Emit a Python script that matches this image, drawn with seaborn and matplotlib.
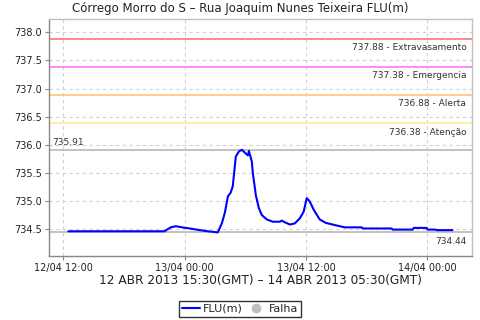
import matplotlib
matplotlib.use("Agg")
import matplotlib.pyplot as plt
import matplotlib.dates as mdates
from matplotlib.lines import Line2D
import seaborn as sns
import pandas as pd

sns.set_theme(style="white")
plt.rcParams['font.family'] = ['DejaVu Sans']

times = [
    "2013-04-12 12:30", "2013-04-12 22:00", "2013-04-12 22:38", "2013-04-12 23:08",
    "2013-04-12 23:44", "2013-04-13 00:31", "2013-04-13 01:31", "2013-04-13 02:18",
    "2013-04-13 02:48", "2013-04-13 03:17", "2013-04-13 03:41", "2013-04-13 03:59",
    "2013-04-13 04:17", "2013-04-13 04:34", "2013-04-13 04:46", "2013-04-13 05:04",
    "2013-04-13 05:22", "2013-04-13 05:40", "2013-04-13 05:58", "2013-04-13 06:16",
    "2013-04-13 06:22", "2013-04-13 06:39", "2013-04-13 06:45", "2013-04-13 07:03",
    "2013-04-13 07:21", "2013-04-13 07:38", "2013-04-13 08:08", "2013-04-13 08:44",
    "2013-04-13 09:25", "2013-04-13 09:37", "2013-04-13 09:55", "2013-04-13 10:25",
    "2013-04-13 10:54", "2013-04-13 11:24", "2013-04-13 11:47", "2013-04-13 12:05",
    "2013-04-13 12:23", "2013-04-13 12:47", "2013-04-13 13:22", "2013-04-13 13:58",
    "2013-04-13 14:52", "2013-04-13 15:51", "2013-04-13 17:32", "2013-04-13 17:37",
    "2013-04-13 20:29", "2013-04-13 20:35", "2013-04-13 22:34", "2013-04-13 22:40",
    "2013-04-13 23:56", "2013-04-14 00:02", "2013-04-14 00:50", "2013-04-14 00:56",
    "2013-04-14 02:30",
]
flu = [
    734.46, 734.46, 734.53, 734.55,
    734.53, 734.51, 734.48, 734.46,
    734.45, 734.44, 734.60, 734.79,
    735.08, 735.15, 735.26, 735.79,
    735.88, 735.91, 735.86, 735.81,
    735.89, 735.70, 735.50, 735.10,
    734.87, 734.75, 734.67, 734.63,
    734.63, 734.65, 734.62, 734.58,
    734.60, 734.69, 734.81, 735.05,
    734.99, 734.84, 734.67, 734.61,
    734.57, 734.53, 734.53, 734.51,
    734.51, 734.49, 734.49, 734.52,
    734.52, 734.49, 734.49, 734.48,
    734.48,
]

thresholds = [737.88, 737.38, 736.88, 736.38]
threshold_names = ["Extravasamento", "Emergencia", "Alerta", "Atenção"]
threshold_colors = ["#ff8080", "#ff80ff", "#ffc880", "#ffee99"]
max_val = 735.91
min_val = 734.44

df = pd.DataFrame({"time": pd.to_datetime(times), "FLU(m)": flu})

fig = plt.figure(figsize=(4.8, 3.2), dpi=100)
ax = fig.add_axes([0.102, 0.2, 0.881, 0.741])

sns.lineplot(data=df, x="time", y="FLU(m)", ax=ax, color="#0000ff", linewidth=1.5)

for v, n, c in zip(thresholds, threshold_names, threshold_colors):
    ax.axhline(v, color=c, linewidth=1.3, zorder=1)
    ax.annotate(f"{v:.2f} - {n}", xy=(1, v), xycoords=("axes fraction", "data"),
                xytext=(-4, -3), textcoords="offset points", ha="right", va="top",
                fontsize=6.5, color="#333333")
ax.axhline(max_val, color="#b8b8b8", linewidth=1.2, zorder=1)
ax.annotate(f"{max_val:.2f}", xy=(0, max_val), xycoords=("axes fraction", "data"),
            xytext=(2, 2), textcoords="offset points", ha="left", va="bottom",
            fontsize=6.5, color="#333333")
ax.axhline(min_val, color="#b8b8b8", linewidth=1.2, zorder=1)
ax.annotate(f"{min_val:.2f}", xy=(1, min_val), xycoords=("axes fraction", "data"),
            xytext=(-4, -3), textcoords="offset points", ha="right", va="top",
            fontsize=6.5, color="#333333")

ax.set_ylim(734.02, 738.24)
ax.set_yticks([734.5, 735.0, 735.5, 736.0, 736.5, 737.0, 737.5, 738.0])
ax.set_yticklabels([f"{t:.1f}" for t in ax.get_yticks()])
ax.set_xlim(pd.Timestamp("2013-04-12 10:35"), pd.Timestamp("2013-04-14 04:25"))
ax.set_xticks(pd.to_datetime(["2013-04-12 12:00", "2013-04-13 00:00",
                              "2013-04-13 12:00", "2013-04-14 00:00"]))
ax.xaxis.set_major_formatter(mdates.DateFormatter("%d/%m %H:%M"))

ax.grid(True, color="#d0d0d0", linestyle=(0, (3, 3)), linewidth=0.8)
ax.tick_params(axis="both", labelsize=7, length=3, width=0.8, colors="#888888",
               labelcolor="#222222", direction="out", left=True, bottom=True, pad=2)
for s in ["left", "bottom"]:
    ax.spines[s].set_color("#888888")
    ax.spines[s].set_linewidth(1.0)
for s in ["top", "right"]:
    ax.spines[s].set_color("#c0c0c0")
    ax.spines[s].set_linewidth(1.0)

ax.set_ylabel("")
ax.set_xlabel("12 ABR 2013 15:30(GMT) – 14 ABR 2013 05:30(GMT)", fontsize=8.7,
              color="#222222", labelpad=1)

fig.suptitle("Córrego Morro do S – Rua Joaquim Nunes Teixeira FLU(m)",
             x=0.5, y=0.995, fontsize=8.5, color="#222222", va="top")

handles = [Line2D([0], [0], color="#0000ff", linewidth=1.5),
           Line2D([0], [0], color="#c0c0c0", marker="o", linestyle="none", markersize=6)]
leg = fig.legend(handles, ["FLU(m)", "Falha"], loc="lower center",
                 bbox_to_anchor=(0.5, 0.005), ncol=2, fontsize=8, frameon=True,
                 fancybox=False, handlelength=1.6, handletextpad=0.3,
                 columnspacing=0.4, borderpad=0.3, borderaxespad=0.1)
leg.get_frame().set_edgecolor("black")
leg.get_frame().set_linewidth(1.0)

fig.savefig("out.png", dpi=100)
